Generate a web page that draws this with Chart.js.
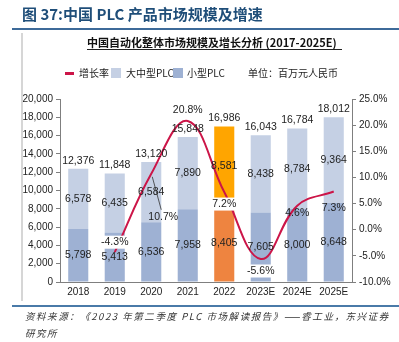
<!DOCTYPE html>
<html>
<head>
<meta charset="utf-8">
<script src="https://cdn.jsdelivr.net/npm/chart.js@4.4.0/dist/chart.umd.min.js"></script>
<style>
  html, body { margin: 0; padding: 0; background: #fff; }
  body { width: 399px; height: 342px; position: relative; overflow: hidden;
         font-family: "Noto Sans CJK SC", "Liberation Sans", sans-serif; color: #222; }
  #chart { position: absolute; left: 0; top: 0; }
  .abs { position: absolute; white-space: nowrap; }
</style>
</head>
<body>
<canvas id="chart" width="399" height="342"></canvas>

<div class="abs" style="left:22px;top:4px;font-size:15px;font-weight:bold;color:#1f4e79;line-height:20px">图 37:中国 PLC 产品市场规模及增速</div>
<div class="abs" style="left:12px;top:28px;width:387px;height:2px;background:#3d6a99"></div>
<div class="abs" style="left:21px;top:33px;width:2px;height:268px;background:#d6d6d6"></div>

<div class="abs" style="left:87px;top:35px;font-size:11px;font-weight:bold;color:#111;line-height:14px;border-bottom:1px solid #222;padding-right:5px">中国自动化整体市场规模及增长分析 (2017-2025E)</div>

<div class="abs" style="left:0;top:66px;font-size:10px;line-height:14px;color:#222;width:399px;height:14px">
  <span class="abs" style="left:65px;top:6px;width:9px;height:3px;background:#cc1548"></span>
  <span class="abs" style="left:79px;top:0">增长率</span>
  <span class="abs" style="left:111px;top:2px;width:10px;height:10px;background:#c5d0e4"></span>
  <span class="abs" style="left:126px;top:0">大中型PLC</span>
  <span class="abs" style="left:173px;top:2px;width:10px;height:10px;background:#9eb1d3"></span>
  <span class="abs" style="left:187px;top:0">小型PLC</span>
  <span class="abs" style="left:248px;top:0">单位：百万元人民币</span>
</div>

<div class="abs" style="left:12px;top:305px;width:387px;height:2px;background:#4a7aa8"></div>
<div class="abs" style="left:25px;top:308px;font-size:9.5px;font-style:italic;color:#333;line-height:17px;letter-spacing:1.55px">资料来源：《2023 年第二季度 PLC 市场解读报告》——睿工业，东兴证券<br>研究所</div>

<script>
// categories and values
const years = ['2018', '2019', '2020', '2021', '2022', '2023E', '2024E', '2025E'];
const smallPlc = [5798, 5413, 6536, 7958, 8405, 7605, 8000, 8648];
const largePlc = [6578, 6435, 6584, 7890, 8581, 8438, 8784, 9364];
const totals = [12376, 11848, 13120, 15848, 16986, 16043, 16784, 18012];
const growth = [null, -4.3, 10.7, 20.8, 7.2, -5.6, 4.6, 7.3];
const leftTicks = [0, 20000, 2000];   // min, max, step
const rightTicks = [-10, 25, 5];

const NUM_FONT = "'Liberation Sans Narrow', 'Liberation Sans', sans-serif";
const fmt = v => v.toLocaleString('en-US');

const smallColors = years.map((y, i) => i === 4 ? '#ee8440' : '#9eb1d3');
const largeColors = years.map((y, i) => i === 4 ? '#ffa500' : '#c5d0e4');

// growth label placement relative to each line point
const growthOffset = [null, [0, -10], [12, 43], [0, -11], [0, 12], [0, 12], [0, 7], [0, 17]];
const growthBg = [false, true, false, true, true, true, false, false];

const labelPlugin = {
  id: 'labels',
  afterDatasetsDraw(chart) {
    const ctx = chart.ctx;
    ctx.save();
    ctx.textAlign = 'center';
    ctx.textBaseline = 'middle';
    ctx.font = '10.5px ' + NUM_FONT;
    ctx.fillStyle = '#222';

    const smallMeta = chart.getDatasetMeta(1);
    const largeMeta = chart.getDatasetMeta(2);
    smallMeta.data.forEach((el, i) => {
      ctx.fillText(fmt(smallPlc[i]), el.x, (el.y + el.base) / 2);
    });
    largeMeta.data.forEach((el, i) => {
      ctx.fillText(fmt(largePlc[i]), el.x, (el.y + el.base) / 2);
      ctx.fillText(fmt(totals[i]), el.x, el.y - 8);
    });

    // growth labels
    const lineMeta = chart.getDatasetMeta(0);
    lineMeta.data.forEach((pt, i) => {
      if (growth[i] === null) return;
      const [dx, dy] = growthOffset[i];
      const x = pt.x + dx, y = pt.y + dy;
      const txt = growth[i].toFixed(1) + '%';
      if (i === 2) {
        // leader line
        ctx.strokeStyle = '#333';
        ctx.lineWidth = 0.8;
        ctx.beginPath();
        ctx.moveTo(pt.x + 1, pt.y + 3);
        ctx.lineTo(x - 2, y - 7);
        ctx.stroke();
      }
      if (growthBg[i]) {
        const w = ctx.measureText(txt).width + 4;
        ctx.fillStyle = '#fff';
        ctx.fillRect(x - w / 2, y - 6.5, w, 13);
      }
      ctx.fillStyle = '#222';
      ctx.fillText(txt, x, y);
    });
    ctx.restore();
  }
};

new Chart(document.getElementById('chart'), {
  type: 'bar',
  data: {
    labels: years,
    datasets: [
      {
        type: 'line',
        label: '增长率',
        data: growth,
        yAxisID: 'y1',
        borderColor: '#cc1548',
        borderWidth: 2,
        tension: 0.4,
        pointRadius: 0,
        fill: false,
      },
      {
        label: '小型PLC',
        data: smallPlc,
        backgroundColor: smallColors,
        yAxisID: 'y',
        categoryPercentage: 1,
        barPercentage: 0.55,
      },
      {
        label: '大中型PLC',
        data: largePlc,
        backgroundColor: largeColors,
        yAxisID: 'y',
        categoryPercentage: 1,
        barPercentage: 0.55,
      },
    ],
  },
  options: {
    responsive: false,
    animation: false,
    layout: { padding: { top: 99, bottom: 36, left: 0, right: 0 } },
    plugins: { legend: { display: false }, tooltip: { enabled: false } },
    scales: {
      x: {
        stacked: true,
        offset: true,
        grid: { display: false, drawTicks: false },
        border: { display: true, color: '#7f7f7f', width: 1 },
        ticks: { color: '#222', font: { size: 10, family: NUM_FONT }, padding: 4, maxRotation: 0 },
        afterFit(s) { s.height = 24; },
      },
      y: {
        stacked: true,
        position: 'left',
        min: leftTicks[0],
        max: leftTicks[1],
        grid: { drawOnChartArea: false, drawTicks: true, tickLength: 4, color: '#7f7f7f' },
        border: { display: true, color: '#7f7f7f', width: 1 },
        ticks: {
          stepSize: leftTicks[2],
          color: '#222',
          font: { size: 10, family: NUM_FONT },
          padding: 3,
          callback: v => fmt(v),
        },
        afterFit(s) { s.width = 60; },
      },
      y1: {
        position: 'right',
        min: rightTicks[0],
        max: rightTicks[1],
        grid: { drawOnChartArea: false, drawTicks: true, tickLength: 4, color: '#7f7f7f' },
        border: { display: true, color: '#7f7f7f', width: 1 },
        ticks: {
          stepSize: rightTicks[2],
          color: '#222',
          font: { size: 10, family: NUM_FONT },
          padding: 3,
          callback: v => v.toFixed(1) + '%',
        },
        afterFit(s) { s.width = 47; },
      },
    },
  },
  plugins: [labelPlugin],
});
</script>
</body>
</html>
